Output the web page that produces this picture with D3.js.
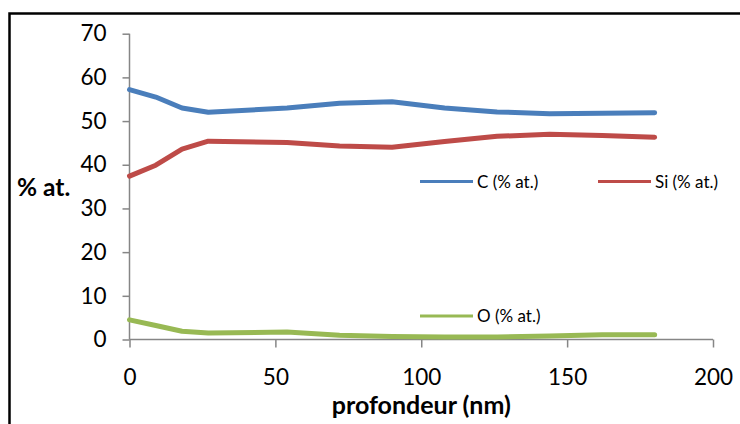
<!DOCTYPE html>
<html>
<head>
<meta charset="utf-8">
<script src="https://cdn.jsdelivr.net/npm/d3@7"></script>
<style>
  body { margin: 0; background: #fff; }
  text { font-family: Lato, "Open Sans", sans-serif; fill: #000; }
</style>
</head>
<body>
<script>
var width = 740;
var height = 424;

// depth (nm) and atomic percentages
var depth = [0, 9, 18, 27, 54, 72, 90, 108, 126, 144, 162, 180];
var carbon = [57.2, 55.5, 53.0, 52.0, 53.0, 54.1, 54.4, 53.0, 52.1, 51.7, 51.8, 51.9];
var silicon = [37.4, 39.9, 43.6, 45.4, 45.1, 44.3, 44.0, 45.3, 46.5, 47.0, 46.7, 46.3];
var oxygen = [4.5, 3.2, 1.9, 1.5, 1.7, 1.0, 0.7, 0.6, 0.6, 0.8, 1.1, 1.1];

var xTicks = [0, 50, 100, 150, 200];
var yTicks = [0, 10, 20, 30, 40, 50, 60, 70];

var series = [
    {name: "C (% at.)", values: carbon, color: "#4a7ebb"},
    {name: "Si (% at.)", values: silicon, color: "#be4b48"},
    {name: "O (% at.)", values: oxygen, color: "#98b954"}
];

var svg = d3.select("body").append("svg")
    .attr("width", width)
    .attr("height", height);

// outer frame (runs off the right and bottom edges)
svg.append("rect")
    .attr("x", 9.5)
    .attr("y", 13.5)
    .attr("width", 800)
    .attr("height", 500)
    .attr("fill", "none")
    .attr("stroke", "#000")
    .attr("stroke-width", 2.5);

var x = d3.scaleLinear().domain([0, 200]).range([129.5, 713]);
var y = d3.scaleLinear().domain([0, 70]).range([339.5, 33.7]);

var grey = "#868686";

var yAxis = svg.append("g")
    .attr("transform", "translate(" + x(0) + ",0)")
    .call(d3.axisLeft(y).tickValues(yTicks).tickSize(7).tickPadding(16));

var xAxis = svg.append("g")
    .attr("transform", "translate(0," + y(0) + ")")
    .call(d3.axisBottom(x).tickValues(xTicks).tickSize(8).tickPadding(22));

[yAxis, xAxis].forEach(function(a) {
    a.select(".domain").attr("stroke", grey).attr("stroke-width", 1.5);
    a.selectAll(".tick line").attr("stroke", grey).attr("stroke-width", 1.5);
    a.selectAll(".tick text")
        .style("font-family", "Lato, 'Open Sans', sans-serif")
        .style("font-size", "22.5px")
        .attr("fill", "#000");
});
// the axis line is drawn without the outer ticks
yAxis.select(".domain").attr("d", "M0," + y(0) + "V" + y(70));
xAxis.select(".domain").attr("d", "M" + x(0) + ",0H" + x(200));

var line = d3.line()
    .x(function(d, i) { return x(depth[i]); })
    .y(function(d) { return y(d); });

svg.selectAll(".serie").data(series)
    .enter().append("path")
    .attr("class", "serie")
    .attr("d", function(d) { return line(d.values); })
    .attr("fill", "none")
    .attr("stroke", function(d) { return d.color; })
    .attr("stroke-width", 5)
    .attr("stroke-linejoin", "round")
    .attr("stroke-linecap", "round");

// legend entries placed inside the plot
var legendPos = [[420, 181.5], [598, 181.5], [420, 316]];

var legend = svg.selectAll(".legend").data(series)
    .enter().append("g")
    .attr("class", "legend")
    .attr("transform", function(d, i) { return "translate(" + legendPos[i] + ")"; });

legend.append("line")
    .attr("x1", 0)
    .attr("x2", 53)
    .attr("stroke", function(d) { return d.color; })
    .attr("stroke-width", 3);

legend.append("text")
    .attr("x", 57)
    .attr("y", 6)
    .style("font-size", "17px")
    .text(function(d) { return d.name; });

// axis titles
svg.append("text")
    .attr("x", 17)
    .attr("y", 196)
    .style("font-size", "24.5px")
    .style("font-weight", "bold")
    .text("% at.");

svg.append("text")
    .attr("x", x(100))
    .attr("y", 414)
    .attr("text-anchor", "middle")
    .style("font-size", "25px")
    .style("font-weight", "bold")
    .text("profondeur (nm)");
</script>
</body>
</html>
